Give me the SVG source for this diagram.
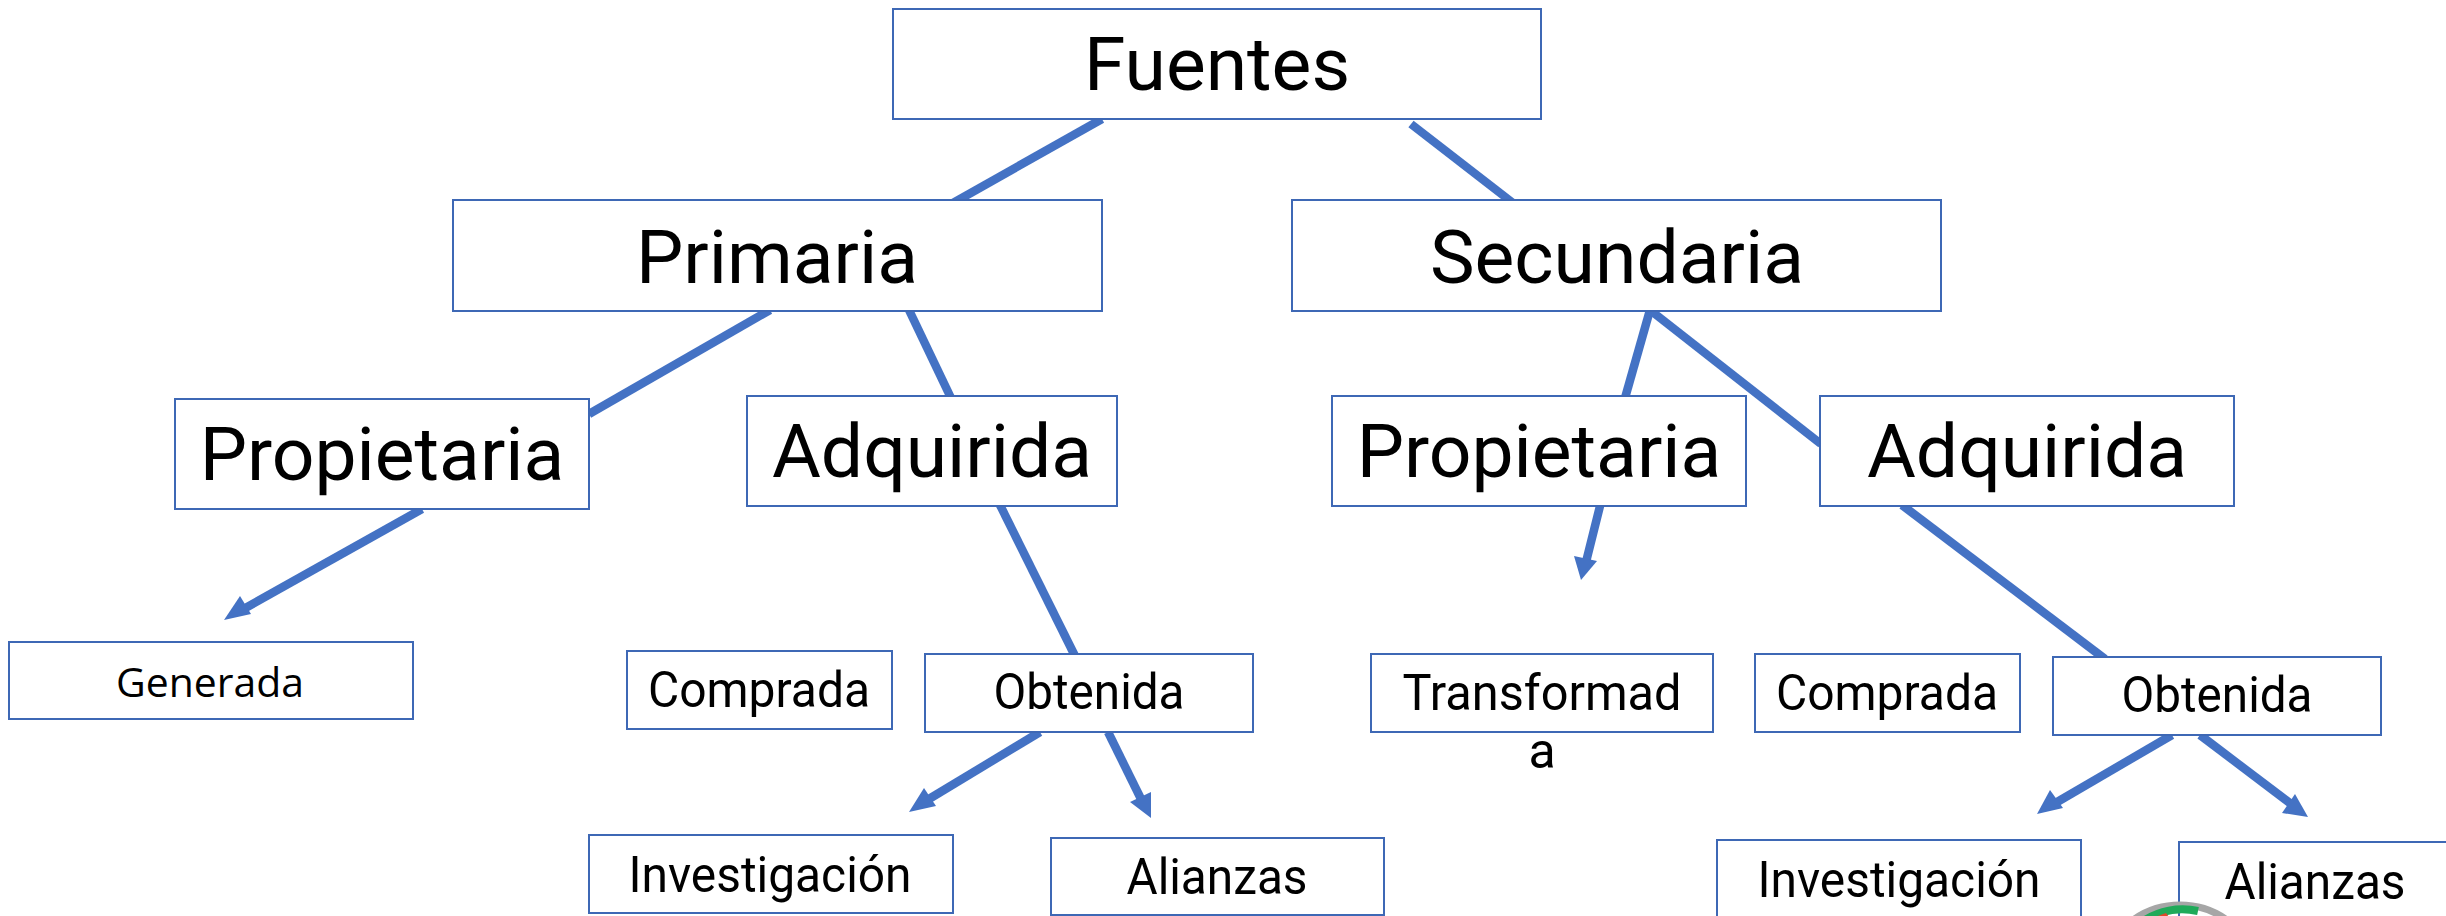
<svg xmlns="http://www.w3.org/2000/svg" width="2446" height="916" viewBox="0 0 2446 916">
<style>
.b{fill:#fff;stroke:#3E68B5;stroke-width:2}
.t{font-family:Roboto,"Liberation Sans",sans-serif;text-anchor:middle;fill:#000}
.l{font-size:75px}.m{font-size:50px}.s{font-size:41px;font-family:"Open Sans",sans-serif}
.c{stroke:#4472C4;stroke-width:8.5;fill:none}
.a{stroke:#4472C4;stroke-width:8.5;fill:none}
.h{fill:#4472C4}
</style>
<g id="connectors">
<line class="c" x1="1102" y1="119" x2="953" y2="203"/>
<line class="c" x1="1411" y1="124" x2="1513" y2="203"/>
<line class="c" x1="770" y1="310" x2="589" y2="414"/>
<line class="c" x1="909" y1="310" x2="951" y2="398"/>
<line class="c" x1="1650" y1="310" x2="1625" y2="398"/>
<line class="c" x1="1650" y1="310" x2="1821" y2="444"/>
<line class="a" x1="422" y1="509" x2="240" y2="611"/>
<polygon class="h" points="224,620 240,596 251,614"/>
<line class="c" x1="1000" y1="505" x2="1075" y2="656"/>
<line class="a" x1="1600" y1="506" x2="1586" y2="562"/>
<polygon class="h" points="1581,580 1574,556 1597,561"/>
<line class="c" x1="1902" y1="505" x2="2105" y2="659"/>
<line class="a" x1="1040" y1="732" x2="924" y2="802"/>
<polygon class="h" points="909,812 924,788 936,806"/>
<line class="a" x1="1108" y1="732" x2="1143" y2="803"/>
<polygon class="h" points="1151,818 1130,802 1151,792"/>
<line class="a" x1="2172" y1="735" x2="2052" y2="805"/>
<polygon class="h" points="2037,814 2050,790 2063,808"/>
<line class="a" x1="2200" y1="735" x2="2295" y2="807"/>
<polygon class="h" points="2308,817 2282,813 2295,794"/>
</g>
<g id="n1"><rect class="b" x="893" y="9" width="648" height="110"/><text class="t l" x="1217" y="90">Fuentes</text></g>
<g id="n2"><rect class="b" x="453" y="200" width="649" height="111"/><text class="t l" x="777" y="283">Primaria</text></g>
<g id="n3"><rect class="b" x="1292" y="200" width="649" height="111"/><text class="t l" x="1617" y="283">Secundaria</text></g>
<g id="n4"><rect class="b" x="175" y="399" width="414" height="110"/><text class="t l" x="382" y="480">Propietaria</text></g>
<g id="n5"><rect class="b" x="747" y="396" width="370" height="110"/><text class="t l" x="932" y="477">Adquirida</text></g>
<g id="n6"><rect class="b" x="1332" y="396" width="414" height="110"/><text class="t l" x="1539" y="477">Propietaria</text></g>
<g id="n7"><rect class="b" x="1820" y="396" width="414" height="110"/><text class="t l" x="2027" y="477">Adquirida</text></g>
<g id="n8"><rect class="b" x="9" y="642" width="404" height="77"/><text class="t s" x="210" y="697" textLength="188" lengthAdjust="spacingAndGlyphs">Generada</text></g>
<g id="n9"><rect class="b" x="627" y="651" width="265" height="78"/><text class="t m" x="759" y="707" textLength="222" lengthAdjust="spacingAndGlyphs">Comprada</text></g>
<g id="n10"><rect class="b" x="925" y="654" width="328" height="78"/><text class="t m" x="1089" y="709" textLength="191" lengthAdjust="spacingAndGlyphs">Obtenida</text></g>
<g id="n11"><rect class="b" x="1371" y="654" width="342" height="78"/><text class="t m" x="1542" y="710" textLength="279" lengthAdjust="spacingAndGlyphs">Transformad</text><text class="t m" x="1542" y="768">a</text></g>
<g id="n12"><rect class="b" x="1755" y="654" width="265" height="78"/><text class="t m" x="1887" y="710" textLength="222" lengthAdjust="spacingAndGlyphs">Comprada</text></g>
<g id="n13"><rect class="b" x="2053" y="657" width="328" height="78"/><text class="t m" x="2217" y="712" textLength="191" lengthAdjust="spacingAndGlyphs">Obtenida</text></g>
<g id="n14"><rect class="b" x="589" y="835" width="364" height="78"/><text class="t m" x="770" y="892" textLength="283" lengthAdjust="spacingAndGlyphs">Investigación</text></g>
<g id="n15"><rect class="b" x="1051" y="838" width="333" height="77"/><text class="t m" x="1217" y="894" textLength="181" lengthAdjust="spacingAndGlyphs">Alianzas</text></g>
<g id="n16"><rect class="b" x="1717" y="840" width="364" height="80"/><text class="t m" x="1899" y="897" textLength="283" lengthAdjust="spacingAndGlyphs">Investigación</text></g>
<g id="n17"><rect class="b" x="2179" y="842" width="270" height="80"/><text class="t m" x="2315" y="899" textLength="181" lengthAdjust="spacingAndGlyphs">Alianzas</text></g>
<g id="icon">
<path d="M2128 924A81 81 0 0 1 2232 924" fill="none" stroke="#a6a6a6" stroke-width="7"/>
<path d="M2142 922A72 72 0 0 1 2198 911" fill="none" stroke="#1faa59" stroke-width="8"/>
<path d="M2155 917L2166 913L2169 917z" fill="#e0492b"/>
</g>
</svg>
